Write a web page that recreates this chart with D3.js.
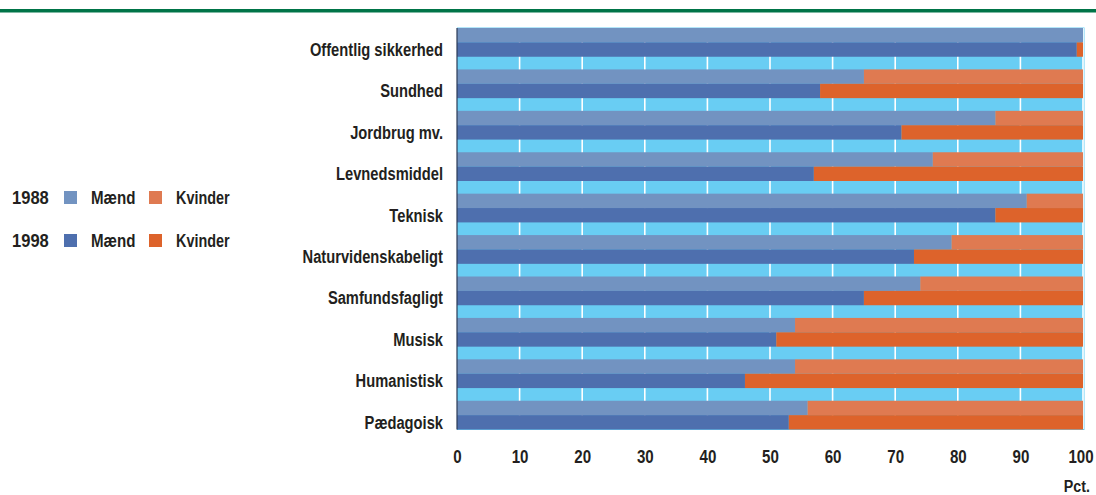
<!DOCTYPE html>
<html lang="da">
<head>
<meta charset="UTF-8">
<title>Mænd og kvinder 1988 og 1998</title>
<script src="https://cdnjs.cloudflare.com/ajax/libs/d3/7.8.5/d3.min.js"></script>
<style>
    body { margin: 0; background: #fff; }
    svg text { font-family: "Liberation Sans", Arial, sans-serif; font-weight: bold; fill: #231f20; }
</style>
</head>
<body>
<svg id="chart"></svg>
<script>
    const width = 1096;
    const height = 495;
    const squeeze = 0.84; // no condensed font installed, so squeeze text horizontally

    // data: share of men (pct.), women = 100 - men
    const categories = ["Offentlig sikkerhed", "Sundhed", "Jordbrug mv.", "Levnedsmiddel", "Teknisk",
        "Naturvidenskabeligt", "Samfundsfagligt", "Musisk", "Humanistisk", "Pædagoisk"];
    const years = ["1988", "1998"];
    const maend1988 = [100, 65, 86, 76, 91, 79, 74, 54, 54, 56];
    const maend1998 = [99, 58, 71, 57, 86, 73, 65, 51, 46, 53];
    const xTicks = [0, 10, 20, 30, 40, 50, 60, 70, 80, 90, 100];

    const colors = {
        "1988": { m: "#7293c1", k: "#df7a51" },
        "1998": { m: "#4e6fae", k: "#dd632b" }
    };

    const svg = d3.select("#chart").attr("width", width).attr("height", height);

    // green rule on top
    svg.append("rect").attr("x", 0).attr("y", 9).attr("width", width).attr("height", 3.5).attr("fill", "#007448");

    const x = d3.scaleLinear().domain([0, 100]).range([457, 1083]);
    const y = d3.scaleBand().domain(categories).range([28, 429.5]).paddingInner(0.306).paddingOuter(0);
    const ySub = d3.scaleBand().domain(years).range([0, y.bandwidth()]);

    // plot background
    svg.append("rect")
        .attr("x", x(0)).attr("y", 27.5)
        .attr("width", x(100) - x(0) + 1.5).attr("height", 402.5)
        .attr("fill", "#69cdf3");

    // grid lines
    svg.append("g").selectAll("line")
        .data(xTicks.slice(1))
        .join("line")
        .attr("x1", d => x(d)).attr("x2", d => x(d))
        .attr("y1", 28).attr("y2", 429)
        .attr("stroke", "#fff").attr("stroke-width", 1.6);

    const rows = [];
    categories.forEach((c, i) => {
        rows.push({ cat: c, year: "1988", m: maend1988[i] });
        rows.push({ cat: c, year: "1998", m: maend1998[i] });
    });

    const g = svg.append("g");
    g.selectAll("rect.m")
        .data(rows)
        .join("rect")
        .attr("class", "m")
        .attr("x", x(0))
        .attr("y", d => y(d.cat) + ySub(d.year))
        .attr("width", d => x(d.m) - x(0))
        .attr("height", ySub.bandwidth())
        .attr("fill", d => colors[d.year].m);

    g.selectAll("rect.k")
        .data(rows)
        .join("rect")
        .attr("class", "k")
        .attr("x", d => x(d.m))
        .attr("y", d => y(d.cat) + ySub(d.year))
        .attr("width", d => x(100) - x(d.m))
        .attr("height", ySub.bandwidth())
        .attr("fill", d => colors[d.year].k);

    // y axis line
    svg.append("line")
        .attr("x1", x(0)).attr("x2", x(0))
        .attr("y1", 28).attr("y2", 429.5)
        .attr("stroke", "#2b3a55").attr("stroke-width", 1.2);

    // category labels
    svg.append("g").selectAll("text")
        .data(categories)
        .join("text")
        .attr("transform", d => `translate(443,${y(d) + ySub("1998") + ySub.bandwidth() / 2}) scale(${squeeze},1)`)
        .attr("dy", "0.36em")
        .attr("text-anchor", "end")
        .attr("font-size", 17.5)
        .text(d => d);

    // x axis
    const xAxis = svg.append("g")
        .attr("transform", "translate(0,457)")
        .call(d3.axisBottom(x).tickValues(xTicks).tickSize(0).tickPadding(0));
    xAxis.select(".domain").remove();
    xAxis.selectAll("text")
        .attr("dy", "0.36em")
        .attr("dx", d => d === 100 ? -3 : 0)
        .attr("transform", `scale(${squeeze},1)`)
        .style("font-size", "18px")
        .style("font-family", "Liberation Sans, Arial, sans-serif")
        .style("font-weight", "bold")
        .attr("fill", "#231f20");

    svg.append("text")
        .attr("transform", `translate(1090,492) scale(${squeeze},1)`)
        .attr("text-anchor", "end")
        .attr("font-size", 17)
        .text("Pct.");

    // legend
    const legendRows = [
        { year: "1988", y: 198 },
        { year: "1998", y: 241 }
    ];
    const lg = svg.append("g").selectAll("g")
        .data(legendRows)
        .join("g")
        .attr("transform", d => `translate(0,${d.y})`);
    lg.append("text").attr("transform", `translate(12,0) scale(0.92,1)`).attr("dy", "0.36em").attr("font-size", 18).text(d => d.year);
    lg.append("rect").attr("x", 64).attr("y", -7).attr("width", 13).attr("height", 13)
        .attr("fill", d => colors[d.year].m);
    lg.append("text").attr("transform", `translate(91,0) scale(${squeeze},1)`).attr("dy", "0.36em").attr("font-size", 18).text("Mænd");
    lg.append("rect").attr("x", 149).attr("y", -7).attr("width", 13).attr("height", 13)
        .attr("fill", d => colors[d.year].k);
    lg.append("text").attr("transform", `translate(176,0) scale(0.8,1)`).attr("dy", "0.36em").attr("font-size", 18).text("Kvinder");
</script>
</body>
</html>
